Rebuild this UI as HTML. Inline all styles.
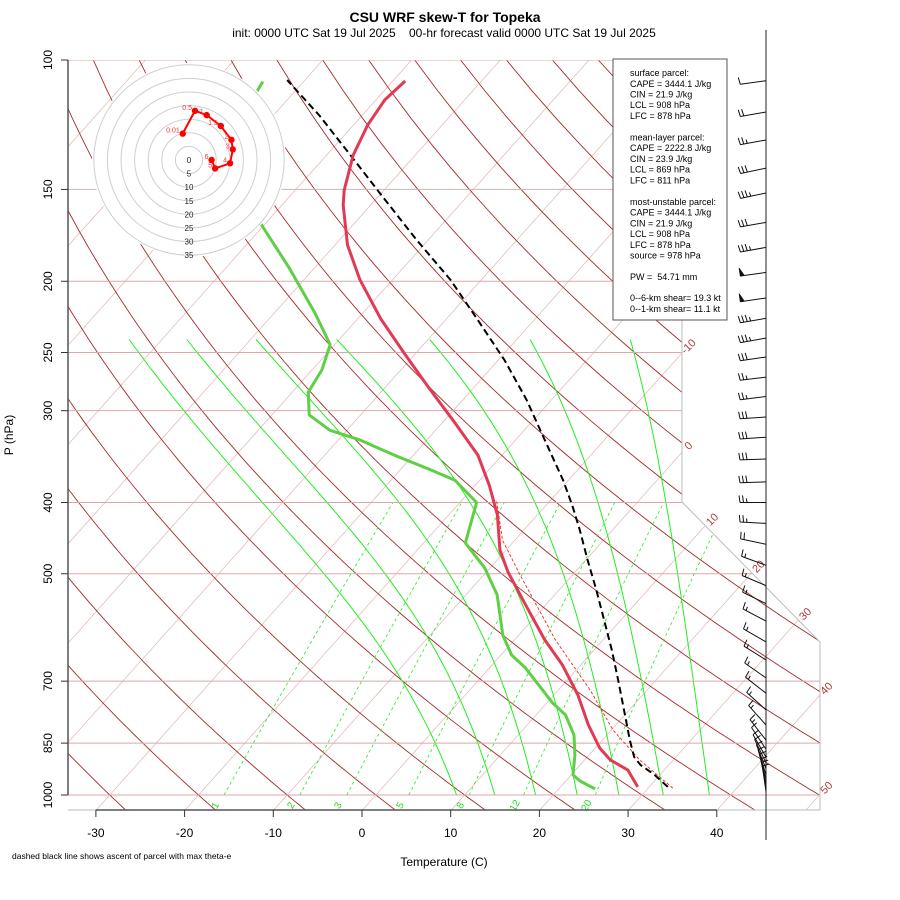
<!DOCTYPE html>
<html><head><meta charset="utf-8"><title>CSU WRF skew-T for Topeka</title>
<style>
html,body{margin:0;padding:0;background:#fff;}
svg{display:block;font-family:"Liberation Sans",Arial,sans-serif;}
</style></head>
<body>
<svg id="chart" width="900" height="900" viewBox="0 0 900 900" xmlns="http://www.w3.org/2000/svg">
<defs><clipPath id="plotclip"><polygon points="68,60 682,60 682,502 820,642 820,810 68,810"/></clipPath></defs>
<rect x="0" y="0" width="900" height="900" fill="#fff"/>
<text x="445" y="22" font-size="14" font-weight="bold" text-anchor="middle">CSU WRF skew-T for Topeka</text>
<text x="444" y="37" font-size="12" text-anchor="middle" xml:space="preserve">init: 0000 UTC Sat 19 Jul 2025    00-hr forecast valid 0000 UTC Sat 19 Jul 2025</text>
<g id="bg" clip-path="url(#plotclip)"></g>
<g id="labels"></g>
<g id="data"></g>
<g id="hodo"></g>
<g id="axes"></g>
<g id="barbs"></g>
<g>
<rect x="613" y="59" width="114" height="261" fill="#fff" stroke="#555" stroke-width="1"/>
<g font-size="9" fill="#000">
<text x="630" y="76">surface parcel:</text>
<text x="630" y="87">CAPE = 3444.1 J/kg</text>
<text x="630" y="97.5">CIN = 21.9 J/kg</text>
<text x="630" y="108">LCL = 908 hPa</text>
<text x="630" y="119">LFC = 878 hPa</text>
<text x="630" y="140.5">mean-layer parcel:</text>
<text x="630" y="151">CAPE = 2222.8 J/kg</text>
<text x="630" y="162">CIN = 23.9 J/kg</text>
<text x="630" y="172.5">LCL = 869 hPa</text>
<text x="630" y="183.5">LFC = 811 hPa</text>
<text x="630" y="205">most-unstable parcel:</text>
<text x="630" y="215.5">CAPE = 3444.1 J/kg</text>
<text x="630" y="226.5">CIN = 21.9 J/kg</text>
<text x="630" y="237">LCL = 908 hPa</text>
<text x="630" y="248">LFC = 878 hPa</text>
<text x="630" y="258.5">source = 978 hPa</text>
<text x="630" y="280" xml:space="preserve">PW =  54.71 mm</text>
<text x="630" y="301">0--6-km shear= 19.3 kt</text>
<text x="630" y="312">0--1-km shear= 11.1 kt</text>
</g></g>
<text transform="translate(13,435) rotate(-90)" font-size="12" text-anchor="middle">P (hPa)</text>
<text x="444" y="866" font-size="12" text-anchor="middle">Temperature (C)</text>
<text x="12" y="859" font-size="8.5">dashed black line shows ascent of parcel with max theta-e</text>
</svg>
<script>
// ---- data ----
const tempP = [975,925,896,863,803,731,665,615,551,497,464,416,379,345,312,279,251,225,199,178.5,157.5,150.3,134.7,122.6,113.3,106.8];
const tempT = [28.7,25.9,22.9,20.5,16.9,12.7,7.9,3.4,-2.3,-7.6,-10.7,-14.5,-18.4,-22.7,-28.5,-35.1,-41.2,-47.4,-53.7,-58.6,-63.1,-64.5,-67.0,-68.4,-69.0,-68.6];
const dewP = [981,957,939,882,829,778,750,671,645,606,534,491,454,400,373,361,345,329,319,304,283,264,244,221,192,168,140,112,107];
const dewT = [24.1,21.6,20.2,18.4,16.3,13.3,10.7,4.0,1.2,-1.8,-6.5,-10.6,-15.3,-18.1,-22.8,-26.6,-32.1,-37.5,-41.9,-45.8,-48.2,-48.9,-50.5,-55.4,-62.8,-70.2,-78,-84.1,-84.6];
const parcelP = [975,939,910,888,842,766,697,635,578,526,479,436,403,373,329,290,256,226,199,176,155,137,119,106.5];
const parcelT = [32.1,29.4,26.8,25.3,23.1,19.4,15.7,12.0,8.1,4.2,0.2,-3.7,-7.1,-10.6,-16.7,-22.8,-29.3,-36.3,-43.5,-51.2,-58.9,-66.3,-74.8,-82.0];
const virtP = [979,896,816,720,615,502,450,397];
const virtT = [32.8,26.2,20.2,13.6,4.6,-5.9,-11.4,-16.1];
const hodoLabels = ["0.01","0.5","1","1.5","2","3","4","5","6"];
const hodoU = [-2.3,2.2,6.5,11.7,15.6,16.1,15.1,9.6,8.3];
const hodoV = [9.7,18.1,16.5,12.5,7.4,3.9,-1.2,-3.1,0];
const barbP = [106.7,117.7,128.5,140.3,151.7,166.3,179.9,194.5,210.8,224.6,239,253.6,270,287,306,326,349,375,400,427,456,487,519,549,580,619,655,693,727,766,803,842,866,888,904,921,938,952,967,978,990];
const barbSpd = [10,20,25,30,35,30,35,50,50,35,35,30,25,25,30,30,30,30,25,25,20,15,15,15,15,15,15,15,15,15,15,15,10,10,10,10,10,10,10,10,10];
const barbDir = [262,260,260,258,258,260,260,262,262,260,260,262,263,263,266,266,268,268,270,273,282,290,293,296,298,300,302,305,308,312,318,322,326,330,334,338,342,345,348,350,352];
const pTicks = [100,150,200,250,300,400,500,700,850,1000];
const tTicks = [-30,-20,-10,0,10,20,30,40];
const isoLabels = [-10,0,10,20,30,40,50];
const mixW = [1,2,3,5,8,12,20];
const moistT0 = [9.1,13.4,18.0,22.7,27.4,32.4,37.6];
const moistTop = [-73.7,-67.2,-59.4,-50.3,-39.8,-28.5,-17.2];
const dryTheta = [-30,-20,-10,0,10,20,30,40,50,60,70,80,90,100,110,120,130,140,150,160,170,180];

// ---- scales ----
const NS='http://www.w3.org/2000/svg';
function yP(p){return 795 - 735*(3 - Math.log10(p));}
function xT(T,p){return 375.9 + 8.87*T + 0.8933*(795 - yP(p));}
function mk(tag,attrs,parent){const e=document.createElementNS(NS,tag);for(const k in attrs)e.setAttribute(k,attrs[k]);parent.appendChild(e);return e;}
function pathFrom(P,T){return P.map((p,i)=>(i?'L':'M')+xT(T[i],p).toFixed(1)+','+yP(p).toFixed(1)).join('');}
const bg=document.getElementById('bg'), lab=document.getElementById('labels'), dat=document.getElementById('data'), hodo=document.getElementById('hodo'), axes=document.getElementById('axes'), barbs=document.getElementById('barbs');

// isotherms
for(let T=-110;T<=50;T+=10){
  const el=mk('path',{d:'M'+xT(T,1050)+','+yP(1050)+'L'+xT(T,100)+','+yP(100),stroke:'#e6bcbc','stroke-width':0.8,fill:'none'},bg);
  
  
}
// dry adiabats
dryTheta.forEach(th=>{
  const P=[],T=[];
  for(let p=1050;p>=100;p-=10){P.push(p);T.push((th+273.15)*Math.pow(p/1000,0.286)-273.15);}
  const el=mk('path',{d:pathFrom(P,T),stroke:'#a52a2a','stroke-width':0.9,fill:'none'},bg);
  
  
});
// moist adiabats
function es(T){return 6.112*Math.exp(17.67*T/(T+243.5));}
function dTdp(p,T){const Tk=T+273.15,e=es(T),rs=0.622*e/(p-e),Lv=2.501e6,Rd=287.04,cp=1005.7;
  return (Rd*Tk+Lv*rs)/(cp+Lv*Lv*rs*0.622/(Rd*Tk*Tk))/p;}
moistT0.forEach((t0,j)=>{
  const P=[1000],T=[t0];let p=1000,t=t0;const h=-5;
  while(p>240){const k1=dTdp(p,t);const k2=dTdp(p+h,t+h*k1);t+=h*(k1+k2)/2;p+=h;P.push(p);T.push(t);}
  const corr=moistTop[j]-T[T.length-1], span=Math.log(1000/P[P.length-1]);
  const TT=T.map((v,i)=>v+corr*Math.log(1000/P[i])/span);
  const el=mk('path',{d:pathFrom(P,TT),stroke:'#22ee22','stroke-width':1,fill:'none'},bg);
  
  
});
// mixing ratio lines
function tmr(w,p){const e=w*p/(622+w);const l=Math.log(e/6.112);return 243.5*l/(17.67-l);}
mixW.forEach(w=>{
  const P=[],T=[];
  for(let p=1000;p>=400;p-=20){P.push(p);T.push(tmr(w,p));}
  const el=mk('path',{d:pathFrom(P,T),stroke:'#33ee33','stroke-width':0.9,'stroke-dasharray':'3,3',fill:'none'},bg);
  
  
  const x=xT(tmr(w,1000),1000)-6;
  const t=mk('text',{x:0,y:0,transform:'translate('+x.toFixed(1)+',807) rotate(-60)','font-size':10,fill:'#22dd22','text-anchor':'middle'},lab);
  t.textContent=String(w);
  
  
});
// pressure lines
pTicks.forEach(p=>{
  const el=mk('line',{x1:68,x2:820,y1:yP(p),y2:yP(p),stroke:p==150?'#c9b4b4':'#dba9a9','stroke-width':1},bg);
  
  
});
// right boundary
{const el=mk('polyline',{points:'682,60 682,502 820,642 820,810 68,810',stroke:'#bbb','stroke-width':1,fill:'none'},axes);

}
// isotherm labels at boundary
function isoHit(T){
  let d=(682-375.9-8.87*T)/0.8933, y=795-d;
  if(y<=502) return [682,y];
  const m=140/138;
  for(let yy=502;yy<=642;yy+=0.5){const xb=682+(yy-502)/m;const xi=375.9+8.87*T+0.8933*(795-yy);if(xi<=xb)return [xb,yy];}
  d=(820-375.9-8.87*T)/0.8933; return [820,795-d];
}
isoLabels.forEach(T=>{
  const [x,y]=isoHit(T);
  const t=mk('text',{transform:'translate('+(x+9).toFixed(1)+','+(y-4).toFixed(1)+') rotate(-45)','font-size':11,fill:'#b03a3a','text-anchor':'middle'},lab);
  t.textContent=String(T);
  
  
});
// profiles
{const el=mk('path',{d:pathFrom(virtP,virtT),stroke:'#ff2020','stroke-width':0.9,'stroke-dasharray':'3,2',fill:'none'},dat);

}
{const el=mk('path',{d:pathFrom(parcelP,parcelT),stroke:'#000','stroke-width':2,'stroke-dasharray':'7,4',fill:'none'},dat);

}
{const el=mk('path',{d:pathFrom(dewP,dewT),stroke:'#5fcf45','stroke-width':3,fill:'none','stroke-linejoin':'round'},dat);

}
{const el=mk('path',{d:pathFrom(tempP,tempT),stroke:'#e23a55','stroke-width':3,fill:'none','stroke-linejoin':'round'},dat);

}
// hodograph
const hx=189,hy=160,ring=13.6,kt=ring/5;
{const el=mk('circle',{cx:hx,cy:hy,r:97,fill:'#fff',stroke:'none'},hodo);

}
for(let k=1;k<=7;k++){
  const el=mk('circle',{cx:hx,cy:hy,r:ring*k,fill:'none',stroke:'#cfcfcf','stroke-width':1},hodo);
  
  
}
for(let k=0;k<=7;k++){
  const t=mk('text',{x:hx,y:hy+ring*k+3,'font-size':8,'text-anchor':'middle',fill:'#222'},hodo);
  t.textContent=String(k*5);
  
  
}
{const el=mk('path',{d:hodoU.map((u,i)=>(i?'L':'M')+(hx+u*kt).toFixed(1)+','+(hy-hodoV[i]*kt).toFixed(1)).join(''),stroke:'#ff0000','stroke-width':2,fill:'none'},hodo);

}
hodoU.forEach((u,i)=>{
  const c=mk('circle',{cx:hx+u*kt,cy:hy-hodoV[i]*kt,r:3.2,fill:'#ff0000'},hodo);
  
  
  const t=mk('text',{x:hx+u*kt-3,y:hy-hodoV[i]*kt-1,'font-size':7,fill:'#ff3030','text-anchor':'end'},hodo);
  t.textContent=hodoLabels[i];
  
  
});
// axes
{const el=mk('line',{x1:68,x2:68,y1:60,y2:795,stroke:'#555','stroke-width':1.5},axes);

}
{const el=mk('line',{x1:xT(-30,1050),x2:xT(40,1050),y1:810,y2:810,stroke:'#555','stroke-width':1.5},axes);

}
pTicks.forEach(p=>{
  const y=yP(p);
  const tk=mk('line',{x1:61,x2:68,y1:y,y2:y,stroke:'#333','stroke-width':1},axes);
  
  
  const t=mk('text',{transform:'translate(52,'+y.toFixed(1)+') rotate(-90)','font-size':12,'text-anchor':'middle',fill:'#000'},axes);
  t.textContent=String(p);
  
  
});
tTicks.forEach(T=>{
  const x=xT(T,1050);
  const tk=mk('line',{x1:x,x2:x,y1:810,y2:817,stroke:'#333','stroke-width':1},axes);
  
  
  const t=mk('text',{x:x,y:837,'font-size':12,'text-anchor':'middle',fill:'#000'},axes);
  t.textContent=String(T);
  
  
});
// wind barbs
{const el=mk('line',{x1:766,x2:766,y1:30,y2:840,stroke:'#222','stroke-width':1},barbs);

}
barbP.forEach((p,i)=>{
  const y=yP(p),d=barbDir[i]*Math.PI/180,ux=Math.sin(d),uy=-Math.cos(d),fx=-uy,fy=ux;
  const L=26,ex=766+L*ux,ey=y+L*uy;
  let s='M766,'+y.toFixed(1)+'L'+ex.toFixed(1)+','+ey.toFixed(1);
  let spd=barbSpd[i],pos=0;let flags='';
  while(spd>=50){const ax=ex-pos*ux,ay=ey-pos*uy,bx=ex-(pos+4)*ux,by=ey-(pos+4)*uy;
    flags+='M'+ax.toFixed(1)+','+ay.toFixed(1)+'L'+(ax+8*fx).toFixed(1)+','+(ay+8*fy).toFixed(1)+'L'+bx.toFixed(1)+','+by.toFixed(1)+'Z';spd-=50;pos+=5;}
  while(spd>=10){const ax=ex-pos*ux,ay=ey-pos*uy;s+='M'+ax.toFixed(1)+','+ay.toFixed(1)+'l'+(7*fx+1*ux).toFixed(1)+','+(7*fy+1*uy).toFixed(1);spd-=10;pos+=3.5;}
  if(spd>=5){if(pos===0)pos=3.5;const ax=ex-pos*ux,ay=ey-pos*uy;s+='M'+ax.toFixed(1)+','+ay.toFixed(1)+'l'+(4*fx+0.6*ux).toFixed(1)+','+(4*fy+0.6*uy).toFixed(1);}
  const el=mk('path',{d:s,stroke:'#111','stroke-width':1,fill:'none'},barbs);
  
  
  if(flags){const f=mk('path',{d:flags,fill:'#111',stroke:'#111','stroke-width':0.8},barbs);
    
    }
});
</script>
</body></html>
